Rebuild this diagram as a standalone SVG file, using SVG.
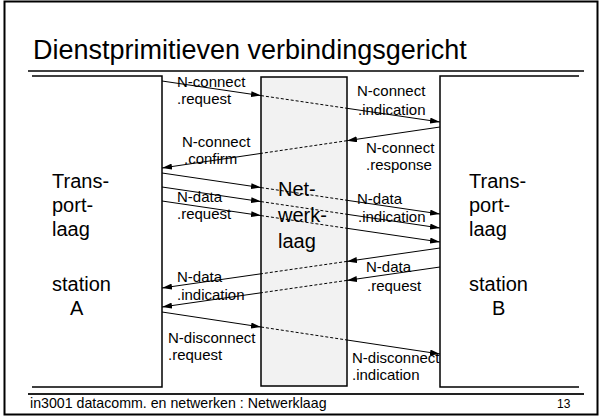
<svg xmlns="http://www.w3.org/2000/svg" width="602" height="416" viewBox="0 0 602 416">
<style>
  text { font-family: "Liberation Sans", Arial, sans-serif; fill: #000; }
  .title { font-size: 27px; }
  .big { font-size: 20px; }
  .lbl { font-size: 15px; }
  .foot { font-size: 14.2px; }
  .box { fill: none; stroke: #000; stroke-width: 1.5; }
  .mid { fill: #f2f2f2; stroke: #000; stroke-width: 1.5; }
  .arr { stroke: #000; stroke-width: 1; fill: none; marker-end: url(#ah); }
  .dash { stroke: #000; stroke-width: 1; fill: none; stroke-dasharray: 3 2; }
</style>
<defs>
  <marker id="ah" viewBox="0 0 10 6" refX="10" refY="3" markerWidth="10" markerHeight="6" markerUnits="userSpaceOnUse" orient="auto">
    <path d="M0,0 L10,3 L0,6 z" fill="#000"/>
  </marker>
</defs>
<rect x="4.5" y="1.5" width="593" height="413" fill="#fff" stroke="#000" stroke-width="2"/>
<g id="title">
  <text class="title" x="33" y="59">Dienstprimitieven verbindingsgericht</text>
  <line x1="28" y1="71" x2="584" y2="71" stroke="#000" stroke-width="1.5"/>
</g>
<g id="stationA">
  <polyline class="box" points="32,76 162,76 162,387 32,387"/>
  <text class="big" x="52" y="188">Trans-</text>
  <text class="big" x="52" y="212">port-</text>
  <text class="big" x="52" y="236">laag</text>
  <text class="big" x="52" y="291">station</text>
  <text class="big" x="70" y="315">A</text>
</g>
<g id="netwerklaag">
  <rect class="mid" x="261" y="77" width="86" height="309"/>
  <text class="big" x="278" y="196">Net-</text>
  <text class="big" x="278" y="222">werk-</text>
  <text class="big" x="278" y="248">laag</text>
</g>
<g id="stationB">
  <polyline class="box" points="579,76 440,76 440,387 579,387"/>
  <text class="big" x="469" y="188">Trans-</text>
  <text class="big" x="469" y="212">port-</text>
  <text class="big" x="469" y="236">laag</text>
  <text class="big" x="469" y="291">station</text>
  <text class="big" x="492" y="315">B</text>
</g>
<g id="connectors">
  <line class="arr" x1="162" y1="81" x2="261" y2="95.6"/>
  <line class="dash" x1="261" y1="95.6" x2="347" y2="108.3"/>
  <line class="arr" x1="347" y1="108.3" x2="440" y2="122"/>
  <line class="arr" x1="440" y1="127" x2="347" y2="140.7"/>
  <line class="dash" x1="347" y1="140.7" x2="261" y2="153.4"/>
  <line class="arr" x1="261" y1="153.4" x2="162" y2="168"/>
  <line class="arr" x1="162" y1="173" x2="261" y2="187.6"/>
  <line class="dash" x1="261" y1="187.6" x2="347" y2="200.3"/>
  <line class="arr" x1="347" y1="200.3" x2="440" y2="214"/>
  <line class="arr" x1="162" y1="187" x2="261" y2="201.6"/>
  <line class="dash" x1="261" y1="201.6" x2="347" y2="214.3"/>
  <line class="arr" x1="347" y1="214.3" x2="440" y2="228"/>
  <line class="arr" x1="162" y1="201" x2="261" y2="215.6"/>
  <line class="dash" x1="261" y1="215.6" x2="347" y2="228.3"/>
  <line class="arr" x1="347" y1="228.3" x2="440" y2="242"/>
  <line class="arr" x1="440" y1="248" x2="347" y2="261.4"/>
  <line class="dash" x1="347" y1="261.4" x2="261" y2="273.8"/>
  <line class="arr" x1="261" y1="273.8" x2="162" y2="288"/>
  <line class="arr" x1="440" y1="267" x2="347" y2="280.4"/>
  <line class="dash" x1="347" y1="280.4" x2="261" y2="292.8"/>
  <line class="arr" x1="261" y1="292.8" x2="162" y2="307"/>
  <line class="arr" x1="162" y1="312" x2="261" y2="327"/>
  <line class="dash" x1="261" y1="327" x2="347" y2="340"/>
  <line class="arr" x1="347" y1="340" x2="440" y2="354"/>
</g>
<g id="labels">
  <text class="lbl" x="177" y="87">N-connect</text>
  <text class="lbl" x="177" y="104">.request</text>
  <text class="lbl" x="357" y="96">N-connect</text>
  <text class="lbl" x="358" y="115">.indication</text>
  <text class="lbl" x="182" y="147">N-connect</text>
  <text class="lbl" x="184" y="164">.confirm</text>
  <text class="lbl" x="366" y="153">N-connect</text>
  <text class="lbl" x="366" y="170">.response</text>
  <text class="lbl" x="177" y="202">N-data</text>
  <text class="lbl" x="177" y="219">.request</text>
  <text class="lbl" x="357" y="204">N-data</text>
  <text class="lbl" x="358" y="222">.indication</text>
  <text class="lbl" x="366" y="272">N-data</text>
  <text class="lbl" x="367" y="291">.request</text>
  <text class="lbl" x="177" y="282">N-data</text>
  <text class="lbl" x="177" y="300">.indication</text>
  <text class="lbl" x="168" y="343">N-disconnect</text>
  <text class="lbl" x="168" y="360">.request</text>
  <text class="lbl" x="352" y="363">N-disconnect</text>
  <text class="lbl" x="352" y="380">.indication</text>
</g>
<g id="footer">
  <line x1="28" y1="394" x2="584" y2="394" stroke="#222" stroke-width="2"/>
  <text class="foot" x="30" y="408">in3001 datacomm. en netwerken : Netwerklaag</text>
  <text x="557" y="408" font-size="12">13</text>
</g>
</svg>
